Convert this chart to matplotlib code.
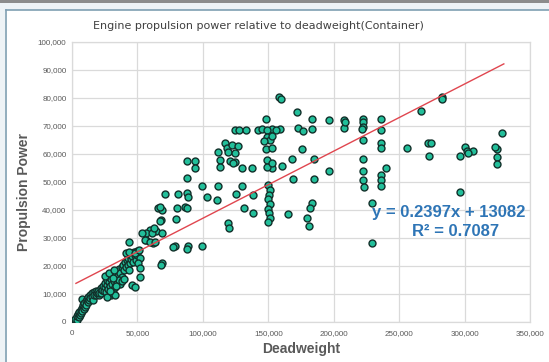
import matplotlib
matplotlib.use("Agg")
import matplotlib.pyplot as plt
from matplotlib.lines import Line2D
from matplotlib.patches import Rectangle

# ---------------- data ----------------
title = "Engine propulsion power relative to deadweight(Container)"
x_label = "Deadweight"
y_label = "Propulsion Power"
x_ticks = [0, 50000, 100000, 150000, 200000, 250000, 300000, 350000]
y_ticks = [0, 10000, 20000, 30000, 40000, 50000, 60000, 70000, 80000, 90000, 100000]

# dense low band
band_dw = [2000, 2500, 3500, 4000, 4500, 5000, 5500, 6000, 6500, 7000, 7400, 7500, 8000, 8500,
           9000, 9500, 10000, 10500, 11000, 11500, 12000, 12500, 13000, 13500, 14000, 15000,
           15500, 16000, 16500, 17000, 18000, 18500, 19000, 20000, 20500, 21000, 22000, 22500,
           23000, 24000, 24500, 25000, 25500, 26000, 26500, 27000, 27500, 28000, 28500, 29000,
           29500, 30000, 30500, 31000, 31500, 32000, 32500, 33000, 33500, 34000, 34500, 35000,
           35500, 36000, 36500, 37000, 38000, 38500, 39000, 40000, 40500, 41000, 42000, 42500,
           43000, 44000, 44500, 45000, 46000, 46500, 47000, 48000, 49000, 49500, 50000,
           25000, 28000, 30000, 32000, 27000, 36000, 38000, 40000, 41500, 43500, 33000,
           29000, 34000, 31000]
band_pw = [500, 1200, 800, 2000, 2800, 1800, 3500, 2500, 4200, 3200, 8200, 5000, 4000, 6000,
           4800, 6800, 5500, 7500, 6200, 8200, 7000, 9000, 7800, 9800, 8500, 10200,
           9000, 8000, 10800, 9500, 11000, 9800, 10500, 11200, 9500, 10400, 12000, 10200,
           11500, 13000, 11000, 12500, 14000, 10800, 13200, 15000, 11800, 14200, 16000, 12800,
           9800, 15200, 13500, 17000, 11500, 14800, 16200, 12500, 15500, 17500, 14000, 18000,
           16500, 19000, 13500, 17500, 19500, 16000, 20500, 18500, 21500, 19800, 22000, 20500,
           23000, 21000, 24000, 22500, 23500, 21500, 25000, 24000, 22000, 25500, 23800,
           16500, 17500, 10500, 18500, 8800, 15000, 14500, 15500, 24500, 18500, 9500,
           11000, 13000, 15800]

# scattered points
scat_dw = [158000, 159500, 282500, 283000, 267000, 171700, 328800,
           183200, 196600, 207900, 207900, 208500,
           222100, 222100, 222100, 222100, 221500,
           236100, 236100, 236100, 236100, 255800,
           272300, 274500, 273000,
           300300, 301900, 306400, 296500, 303000,
           324500, 324500, 324500, 323500, 296500,
           159000, 153000, 173000, 176300, 183200,
           175500, 167900, 185200, 160300, 152600,
           169100, 185200, 196600,
           222100, 222100, 222100, 223000,
           236100, 236100, 236100, 240000,
           229000, 229000,
           183200, 181900, 179400, 181400, 165300,
           150000, 151000, 150500, 149500, 151500, 150000, 150500, 151000, 150000,
           148300,
           124600, 128000, 133000, 142400, 145000, 148800, 155900,
           148800, 151000, 153000, 147000, 148300, 152600,
           116900, 118700, 122000, 127100, 119500, 124600, 111300,
           113100, 113100, 124600, 129700, 137300, 121000, 123000,
           148800, 148800, 152600,
           87700, 94000, 94000, 87700,
           99100, 111800, 129700,
           71100, 81200, 87700, 88900, 86400, 87700, 80000,
           102900, 111000, 125300, 138600, 131400, 138600,
           119500, 120200,
           66000, 68500, 67500, 67800, 67000, 79200,
           78700, 88900, 99100, 88000,
           56600, 61700,
           59600, 64200, 68500, 56500, 53300, 60900, 62500,
           55800, 59600, 63400, 43800, 77400,
           43800, 48100, 51400, 52000, 50700, 52000, 52000,
           68500, 68000, 45600, 48100]
scat_pw = [80500, 79800, 80400, 79600, 75400, 74900, 67600,
           72400, 72100, 72100, 69400, 71500,
           72400, 71600, 69700, 65000, 68800,
           72400, 68600, 63800, 62000, 62000,
           64000, 64000, 59400,
           62400, 61200, 61200, 59300, 60500,
           61800, 59000, 56400, 62500, 46400,
           68800, 68800, 69200, 68300, 68800,
           61700, 58200, 58200, 55700, 54900,
           51100, 51100, 54000,
           58100, 54000, 50700, 48300,
           52500, 50700, 48600, 54900,
           42400, 28300,
           42400, 40600, 37000, 34300, 38600,
           49000, 47200, 45500, 43800, 42000, 40500, 38800, 37200, 35800,
           72400,
           68600, 68600, 68500, 68600, 68800, 68500, 68500,
           66200, 65000, 66500, 64500, 61700, 62000,
           64000, 62000, 63200, 62900, 60800, 60500, 60800,
           57800, 55200, 57200, 54900, 54900, 57500, 56800,
           57800, 55200, 56700,
           57600, 57600, 54900, 51500,
           48600, 48600, 48600,
           45600, 45600, 46000, 44700, 41200, 40600, 40600,
           44500, 43600, 45700, 45400, 40800, 38800,
           35500, 33400,
           40600, 40000, 41000, 36400, 36000, 36700,
           27200, 27200, 27200, 26000,
           29300, 28300,
           32900, 32600, 31900, 31700, 31700, 31900, 33500,
           29300, 28700, 28700, 28700, 26900,
           25100, 24500, 25700, 22700, 21000, 19200, 16200,
           21000, 20500, 13200, 12400]

trend_slope = 0.2397
trend_intercept = 13082
trend_r2 = 0.7087
trend_range = [3000, 330000]

all_dw = band_dw + scat_dw
all_pw = band_pw + scat_pw

# ---------------- figure ----------------
W, H = 549, 362
fig = plt.figure(figsize=(W / 100, H / 100), dpi=100)
fig.patch.set_facecolor("white")

# outer frame decorations
fig.add_artist(Rectangle((0, 1 - 10 / H), 1, 10 / H, transform=fig.transFigure,
                         facecolor="#eef3f6", edgecolor="none", zorder=0))
fig.add_artist(Rectangle((0, 0), 5 / W, 1, transform=fig.transFigure,
                         facecolor="#eef3f6", edgecolor="none", zorder=0))
fig.add_artist(Rectangle((0, 1 - 2.5 / H), 1, 2.5 / H, transform=fig.transFigure,
                         facecolor="#8c8c8c", edgecolor="none", zorder=1))
fig.add_artist(Line2D([5.5 / W, 1], [1 - 10 / H, 1 - 10 / H], transform=fig.transFigure,
                      color="#7f9fb2", lw=1.2, zorder=2))
fig.add_artist(Line2D([5.5 / W, 5.5 / W], [0, 1 - 10 / H], transform=fig.transFigure,
                      color="#7f9fb2", lw=1.2, zorder=2))

left, right, top, bottom = 72, 530, 42, 322
ax = fig.add_axes([left / W, 1 - bottom / H, (right - left) / W, (bottom - top) / H])
ax.set_xlim(0, 350000)
ax.set_ylim(0, 100000)
ax.set_xticks(x_ticks)
ax.set_yticks(y_ticks)
ax.set_xticklabels([f"{v:,}" for v in x_ticks])
ax.set_yticklabels([f"{v:,}" for v in y_ticks])
ax.grid(True, color="#dadada", lw=0.9)
ax.set_axisbelow(True)
for s in ax.spines.values():
    s.set_color("#dadada")
    s.set_linewidth(0.9)
ax.tick_params(length=0, labelsize=5.8, labelcolor="#595959")
ax.tick_params(axis="x", pad=6)
ax.tick_params(axis="y", pad=4)
for lab in ax.get_xticklabels() + ax.get_yticklabels():
    lab.set_family("Liberation Sans")

# scatter with dark edge
ax.scatter(all_dw, all_pw, s=25, facecolor="#22bf9a", edgecolor="#12302a",
           linewidth=1.0, zorder=3)

# trendline
tx = trend_range
ty = [trend_slope * v + trend_intercept for v in tx]
ax.plot(tx, ty, color="#e0464f", lw=1.0, zorder=4)

# texts
fig.text(258 / W, 1 - 26 / H, title, ha="center", va="center", fontsize=8,
         color="#404040", family="DejaVu Sans")
fig.text(301 / W, 1 - 349 / H, x_label, ha="center", va="center", fontsize=10,
         color="#595959", family="Liberation Sans", fontweight="bold")
fig.text(24 / W, 1 - 192 / H, y_label, ha="center", va="center", fontsize=10,
         color="#595959", family="Liberation Sans", fontweight="bold", rotation=90)
fig.text(448.5 / W, 1 - 213 / H, f"y = {trend_slope}x + {trend_intercept}",
         ha="center", va="center", fontsize=12, color="#2e75b6",
         family="Liberation Sans", fontweight="bold")
fig.text(456 / W, 1 - 232 / H, f"R\u00b2 = {trend_r2}",
         ha="center", va="center", fontsize=12, color="#2e75b6",
         family="Liberation Sans", fontweight="bold")

fig.savefig("out.png", dpi=100)
